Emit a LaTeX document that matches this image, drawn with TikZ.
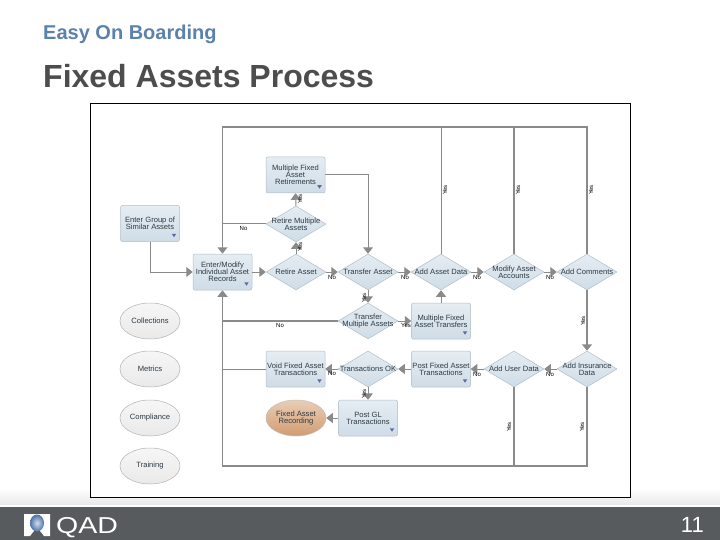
\documentclass[tikz,border=0pt]{standalone}
\usepackage{fontspec}
\setmainfont{Liberation Sans}
\usetikzlibrary{shapes.geometric,arrows.meta,calc}
\definecolor{linegray}{HTML}{8A8A8A}
\definecolor{footer}{HTML}{585B5D}
\definecolor{titleblue}{HTML}{5B82AC}
\definecolor{titlegray}{HTML}{4D4D4D}
\definecolor{edgeblue}{HTML}{B0BEC9}
\definecolor{txtc}{HTML}{2E3A44}
\definecolor{E1}{HTML}{E6EDF3}
\definecolor{E2}{HTML}{CFDCE6}
\definecolor{ORa}{HTML}{E9CDB5}
\definecolor{ORb}{HTML}{D29C72}
\definecolor{DM}{HTML}{5A6CA6}
\definecolor{logoA}{HTML}{CFDDEE}
\definecolor{logoB}{HTML}{4F74A8}
\tikzset{
  txt/.style={font=\fontsize{7.6pt}{7.2pt}\selectfont,text=txtc,align=center,inner sep=0pt},
  boxn/.style={draw=edgeblue,line width=.5pt,rounded corners=2pt,top color=E1,bottom color=E2,minimum width=59pt,minimum height=36pt,inner sep=0pt,txt},
  dia/.style={diamond,draw=edgeblue,line width=.5pt,top color=E1,bottom color=E2,minimum width=60pt,minimum height=36pt,shape aspect=1.667,inner sep=0pt},
  oval/.style={ellipse,draw=gray!60,line width=.5pt,top color=gray!7,bottom color=gray!17,minimum width=60pt,minimum height=36pt,inner sep=0pt,txt},
  recording/.style={ellipse,draw=gray!50,line width=.5pt,top color=ORa,bottom color=ORb,minimum width=60pt,minimum height=36pt,inner sep=0pt,txt},
  flow/.style={draw=linegray,line width=1pt},
  flowthick/.style={draw=linegray,line width=1.5pt},
  arrowed/.style={-{Triangle[width=10pt,length=6.5pt]}},
  edgecap/.style={font=\fontsize{6pt}{6pt}\selectfont,text=black,inner sep=0pt},
  dropmark/.style={fill=DM,draw=none},
}
\begin{document}
\begin{tikzpicture}[x=1pt,y=-1pt]
\useasboundingbox (0,0) rectangle (720,540);
\fill[white] (0,0) rectangle (720,540);
% lower band and footer
\shade[top color=white,bottom color=gray!18] (0,488) rectangle (720,505);
\fill[white] (0,505) rectangle (720,507);
\fill[footer] (0,507) rectangle (720,540);
% titles
\node[anchor=base west,inner sep=0pt,font=\fontsize{20pt}{22pt}\selectfont\bfseries,text=titleblue] (sub) at (43,40) {Easy On Boarding};
\node[anchor=base west,inner sep=0pt,font=\fontsize{32pt}{34pt}\selectfont\bfseries,text=titlegray] (ttl) at (43,88) {Fixed Assets Process};
% frame
\draw[black,line width=.8pt,fill=white] (90.5,103.5) rectangle (630,497);
% nodes
\node[boxn] (mfr) at (295.5,175) {Multiple Fixed\\Asset\\Retirements};
\node[boxn] (egs) at (150,223.5) {Enter Group of\\Similar Assets};
\node[boxn] (ema) at (222.5,272) {Enter/Modify\\Individual Asset\\Records};
\node[dia,label={[txt]center:Retire Multiple\\Assets}] (rma) at (296,224) {};
\node[dia,label={[txt]center:Retire Asset}] (ra) at (296,272) {};
\node[dia,label={[txt]center:Transfer Asset}] (ta) at (368,272) {};
\node[dia,label={[txt]center:Add Asset Data}] (aad) at (441,272) {};
\node[dia,label={[txt]center:Modify Asset\\Accounts}] (maa) at (514,272) {};
\node[dia,label={[txt]center:Add Comments}] (ac) at (587,272) {};
\node[oval] (col) at (150,321) {Collections};
\node[oval] (met) at (150,369) {Metrics};
\node[oval] (com) at (150,418) {Compliance};
\node[oval] (trn) at (150,466) {Training};
\node[dia,label={[txt]center:Transfer\\Multiple Assets}] (tma) at (368,321) {};
\node[boxn] (mft) at (441,321) {Multiple Fixed\\Asset Transfers};
\node[boxn] (vfa) at (295.5,369) {Void Fixed Asset\\Transactions};
\node[dia,label={[txt]center:Transactions OK}] (tok) at (368,369) {};
\node[boxn] (pfa) at (441,369) {Post Fixed Asset\\Transactions};
\node[dia,label={[txt]center:Add User Data}] (aud) at (514,369) {};
\node[dia,label={[txt]center:Add Insurance\\Data}] (aid) at (587,369) {};
\node[boxn] (pgl) at (368,418) {Post GL\\Transactions};
\node[recording] (far) at (296,418) {Fixed Asset\\Recording};
% drop-down marks
\foreach \n in {mfr,egs,ema,mft,vfa,pfa,pgl}
  \fill[dropmark] ($(\n.south east)+(-8,-8)$) -- ++(4.5,0) -- ++(-2.25,3.5) -- cycle;
% routing corners
\coordinate (topl) at (222.5,127);
\coordinate (botl) at (222.5,466);
% connectors
\draw[flowthick,arrowed] (ac.north) |- (topl) -- (ema.north);
\draw[flow] (aad.north) -- (aad.north |- topl);
\draw[flowthick] (maa.north) -- (maa.north |- topl);
\draw[flow] (rma.west) -- (rma.west -| topl);
\draw[flow,arrowed] (mfr.east) -| (ta.north);
\draw[flow,arrowed] (egs.south) |- (ema.west);
\draw[flow,arrowed] (ema.east) -- (ra.west);
\draw[flow,arrowed] (ra.north) -- (rma.south);
\draw[flow,arrowed] (rma.north) -- (mfr.south);
\draw[flow,arrowed] (ra.east) -- (ta.west);
\draw[flow,arrowed] (ta.east) -- (aad.west);
\draw[flow,arrowed] (aad.east) -- (maa.west);
\draw[flow,arrowed] (maa.east) -- (ac.west);
\draw[flowthick,arrowed] (ac.south) -- (aid.north);
\draw[flow,arrowed] (aid.west) -- (aud.east);
\draw[flow,arrowed] (aud.west) -- (pfa.east);
\draw[flow,arrowed] (pfa.west) -- (tok.east);
\draw[flow,arrowed] (tok.west) -- (vfa.east);
\draw[flow,arrowed] (tok.south) -- (pgl.north);
\draw[flow,arrowed] (pgl.west) -- (far.east);
\draw[flow,arrowed] (ta.south) -- (tma.north);
\draw[flow,arrowed] (tma.east) -- (mft.west);
\draw[flow,arrowed] (mft.north) -- (aad.south);
\draw[flowthick,arrowed] (aid.south) |- (botl) -- (ema.south);
\draw[flowthick] (aud.south) -- (aud.south |- botl);
\draw[flowthick] (tma.west) -- (tma.west -| topl);
\draw[flow] (vfa.west) -- (vfa.west -| topl);
% connector labels
\node[edgecap] (l1) at (243.5,228) {No};
\node[edgecap,rotate=90] (l2) at (300,199) {Yes};
\node[edgecap,rotate=90] (l3) at (300,247) {Yes};
\node[edgecap] (l4) at (332,277) {No};
\node[edgecap] (l5) at (405,277) {No};
\node[edgecap] (l6) at (477,277) {No};
\node[edgecap] (l7) at (550,277) {No};
\node[edgecap,rotate=90] (l8) at (445,190) {Yes};
\node[edgecap,rotate=90] (l9) at (518,190) {Yes};
\node[edgecap,rotate=90] (l10) at (591,190) {Yes};
\node[edgecap,rotate=90] (l11) at (583,321) {Yes};
\node[edgecap,rotate=90] (l12) at (364,298) {Yes};
\node[edgecap] (l13) at (280,325) {No};
\node[edgecap] (l14) at (406,325) {Yes};
\node[edgecap] (l15) at (332,373) {No};
\node[edgecap] (l16) at (477,374) {No};
\node[edgecap] (l17) at (550,374) {No};
\node[edgecap,rotate=90] (l18) at (364,394) {Yes};
\node[edgecap,rotate=90] (l19) at (509,427) {Yes};
\node[edgecap,rotate=90] (l20) at (582,427) {Yes};
% logo
\fill[white] (24,514) -- (50,514) -- (50,536) -- (44,536) -- (37,527) -- (30,536) -- (24,536) -- cycle;
\shade[inner color=logoA,outer color=logoB] (37,523) ellipse (7pt and 8.5pt);
\node[anchor=base west,inner sep=0pt,text=white,font=\fontsize{23pt}{25pt}\selectfont,xscale=1.24] (qad) at (56,533) {QAD};
\node[anchor=base east,inner sep=0pt,text=white,font=\fontsize{22pt}{24pt}\selectfont] (pg) at (704,532) {11};
\end{tikzpicture}
\end{document}
